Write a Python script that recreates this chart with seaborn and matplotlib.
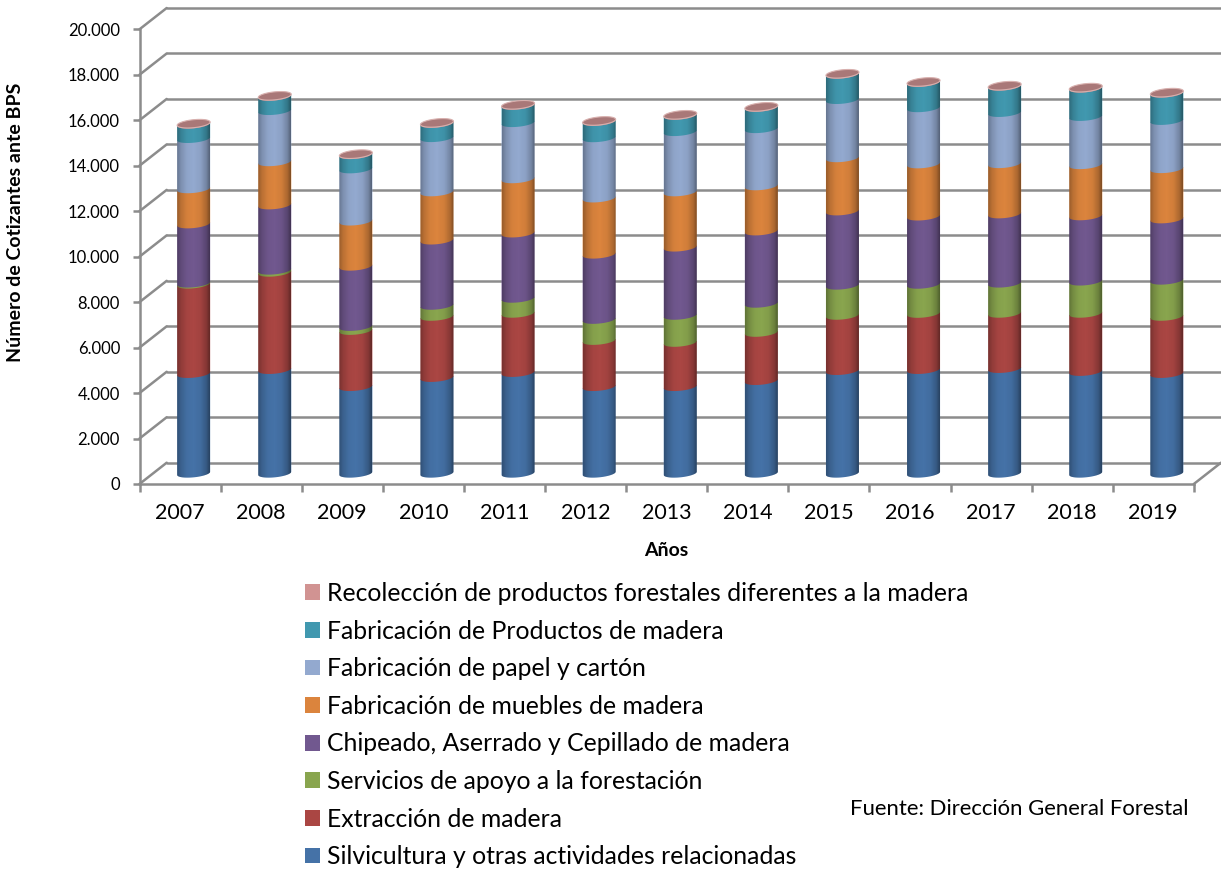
import numpy as np
import matplotlib
matplotlib.use("Agg")
import matplotlib.pyplot as plt
from matplotlib.patches import ConnectionPatch, Patch, Polygon
import seaborn as sns

# ── Données ───────────────────────────────────────────────────
anios = ["2007", "2008", "2009", "2010", "2011", "2012", "2013",
         "2014", "2015", "2016", "2017", "2018", "2019"]

silvicultura = [4385, 4560, 3810, 4210, 4430, 3810, 3810, 4075, 4515, 4560, 4605, 4475, 4385]
extraccion = [3930, 4280, 2470, 2690, 2605, 2030, 1945, 2120, 2430, 2470, 2430, 2560, 2515]
servicios = [45, 90, 175, 485, 660, 925, 1190, 1280, 1325, 1280, 1325, 1415, 1590]
chipeado = [2605, 2870, 2650, 2870, 2870, 2870, 3000, 3180, 3265, 3000, 3045, 2870, 2695]
muebles = [1545, 1900, 1985, 2120, 2385, 2470, 2430, 1985, 2340, 2295, 2210, 2250, 2210]
papel = [2210, 2250, 2295, 2385, 2470, 2650, 2650, 2515, 2560, 2470, 2250, 2120, 2120]
productos = [630, 625, 625, 625, 760, 715, 715, 935, 1110, 1110, 1155, 1245, 1200]
recoleccion = [30, 30, 30, 30, 30, 30, 30, 30, 30, 30, 30, 30, 30]

series = [silvicultura, extraccion, servicios, chipeado, muebles, papel, productos, recoleccion]
nombres = ["Silvicultura y otras actividades relacionadas",
           "Extracción de madera",
           "Servicios de apoyo a la forestación",
           "Chipeado, Aserrado y Cepillado de madera",
           "Fabricación de muebles de madera",
           "Fabricación de papel y cartón",
           "Fabricación de Productos de madera",
           "Recolección de productos forestales diferentes a la madera"]
colores = ["#4572A7", "#AA4643", "#89A54E", "#71588F",
           "#DB843D", "#93A9CF", "#4198AF", "#D19392"]
y_ticks = list(range(0, 20001, 2000))
y_labels = [f"{v:,}".replace(",", ".") for v in y_ticks]

# ── Géométrie de la pseudo-3D (pixels) ────────────────────────
W, H = 1221, 875
X0, X1, Y0, Y1 = 139.5, 1193.8, 484.0, 29.3   # plan avant
DX, DY = 27.2, 21.3                            # décalage du mur du fond
GRIS = "#8C8C8C"
LW = 1.8
RX, RY, TILT = 16.5, 4.0, 1.6                  # ellipse du cylindre
px_x = 13 / (X1 - X0)
px_y = 20000 / (Y0 - Y1)


def make_axes(dx, dy):
    a = fig.add_axes([(X0 + dx) / W, (H - Y0 + dy) / H, (X1 - X0) / W, (Y0 - Y1) / H])
    a.set_xlim(-0.5, 12.5)
    a.set_ylim(0, 20000)
    a.patch.set_alpha(0)
    sns.despine(ax=a, left=True, bottom=True)
    return a


def lower_arc(cx, cy):
    t = np.linspace(np.pi, 2 * np.pi, 30)
    x = cx + RX * np.cos(t) * px_x
    y = cy + (RY * np.sin(t) + TILT * np.cos(t)) * px_y
    return x, y


sns.set_theme(style="white")
plt.rcParams["font.family"] = ["Lato", "DejaVu Sans"]

fig = plt.figure(figsize=(W / 100, H / 100), dpi=100)

# Mur du fond : uniquement les lignes de grille
ax_back = make_axes(DX, DY)
ax_back.set_xticks([])
ax_back.set_yticks([])
for v in y_ticks:
    ax_back.axhline(v, color=GRIS, lw=LW, clip_on=False)

# Plan avant : axes et graduations
ax = make_axes(0, 0)
ax.spines["left"].set_visible(True)
ax.spines["bottom"].set_visible(True)
for s in ["left", "bottom"]:
    ax.spines[s].set_color(GRIS)
    ax.spines[s].set_linewidth(LW)
ax.set_yticks(y_ticks, y_labels, fontsize=12, color="black")
ax.set_xticks(np.arange(-0.5, 13, 1), [""] * 14)
ax.set_xticks(np.arange(13), anios, minor=True, fontsize=15.5, color="black")
ax.tick_params(axis="y", length=5, width=LW, color=GRIS, left=True, pad=9)
ax.tick_params(axis="x", which="major", length=6, width=LW, color=GRIS, bottom=True)
ax.tick_params(axis="x", which="minor", length=0, pad=14)
ax.set_xlim(-0.5, 12.5)
ax.set_ylim(0, 20000)

# Diagonales entre plan avant et mur du fond
for v in y_ticks:
    fig.add_artist(ConnectionPatch((-0.5, v), (-0.5, v), ax.transData, ax_back.transData,
                                   color=GRIS, lw=LW))
fig.add_artist(ConnectionPatch((12.5, 0), (12.5, 0), ax.transData, ax_back.transData,
                               color=GRIS, lw=LW))

# ── Barres empilées à mi-profondeur ───────────────────────────
ax_mid = make_axes(DX / 2, DY / 2)
bottom = np.zeros(len(anios))
for k, (vals, col) in enumerate(zip(series, colores)):
    sns.barplot(x=anios, y=vals, bottom=bottom, color=col, saturation=1,
                width=33 / 81.1, ax=ax_mid)
    for rect in ax_mid.containers[-1]:
        rect.set_visible(False)
        cx = rect.get_x() + rect.get_width() / 2
        y0, y1 = rect.get_y(), rect.get_y() + rect.get_height()
        ax_, ay_ = lower_arc(cx, y0)
        xy = np.column_stack([ax_, ay_])
        # bord haut droit incliné ; le segment suivant le recouvre
        xy = np.vstack([xy, [ax_[-1], y1 + TILT * px_y], [ax_[0], y1 - TILT * px_y]])
        ax_mid.add_patch(Polygon(xy, closed=True, fc=col, ec="none",
                                 zorder=2 + k * 0.01, clip_on=False))
    bottom = bottom + np.array(vals)

# Ombrage horizontal du cylindre + couvercle
stops_x = [0, 0.12, 0.3, 0.5, 0.72, 0.9, 1]
stops_a = [0.30, 0.15, 0.03, 0, 0.05, 0.22, 0.42]
grad = np.zeros((1, 60, 4))
grad[0, :, 3] = np.interp(np.linspace(0, 1, 60), stops_x, stops_a)
half = 33 / 81.1 / 2
for i, tot in enumerate(bottom):
    ax_, ay_ = lower_arc(i, 0)
    sil = np.vstack([np.column_stack([ax_, ay_]),
                     [ax_[-1], tot + TILT * px_y], [ax_[0], tot - TILT * px_y]])
    clip = Polygon(sil, closed=True, transform=ax_mid.transData, fc="none", ec="none")
    ax_mid.add_patch(clip)
    im = ax_mid.imshow(grad, extent=(i - half, i + half, -300, tot + 300),
                       aspect="auto", zorder=3, interpolation="bilinear")
    im.set_clip_box(fig.bbox)
    im.set_clip_path(clip)
    t = np.linspace(0, 2 * np.pi, 60)
    tx = i + RX * np.cos(t) * px_x
    ty = tot + (RY * np.sin(t) + TILT * np.cos(t)) * px_y
    ax_mid.add_patch(Polygon(np.column_stack([tx, ty]), closed=True, fc="#A97878",
                             ec="#D8B0AE", lw=0.8, zorder=4, clip_on=False))
ax_mid.set_xlim(-0.5, 12.5)
ax_mid.set_ylim(0, 20000)
ax_mid.set_xticks([])
ax_mid.set_yticks([])
ax_mid.set_xlabel("")
ax_mid.set_ylabel("")
for sp in ax_mid.spines.values():
    sp.set_visible(False)

# ── Textes ────────────────────────────────────────────────────
fig.text(666 / W, 1 - 550 / H, "Años", fontsize=14, fontweight="bold",
         ha="center", va="center", color="black")
fig.text(16 / W, 1 - 222 / H, "Número de Cotizantes ante BPS", fontsize=14,
         fontweight="bold", rotation=90, ha="center", va="center", color="black")
fig.text(1189 / W, 1 - 809 / H, "Fuente: Dirección General Forestal", fontsize=15.9,
         ha="right", va="center", color="black")

handles = [Patch(fc=c, ec="none") for c in colores[::-1]]
fig.legend(handles, nombres[::-1], loc="upper left",
           bbox_to_anchor=(295 / W, 1 - 572 / H), frameon=False, fontsize=17.85,
           handlelength=0.6, handleheight=0.6, handletextpad=0.28,
           labelspacing=0.59, borderpad=0.4, borderaxespad=0, labelcolor="black")

fig.savefig("out.png", dpi=100, facecolor="white")
